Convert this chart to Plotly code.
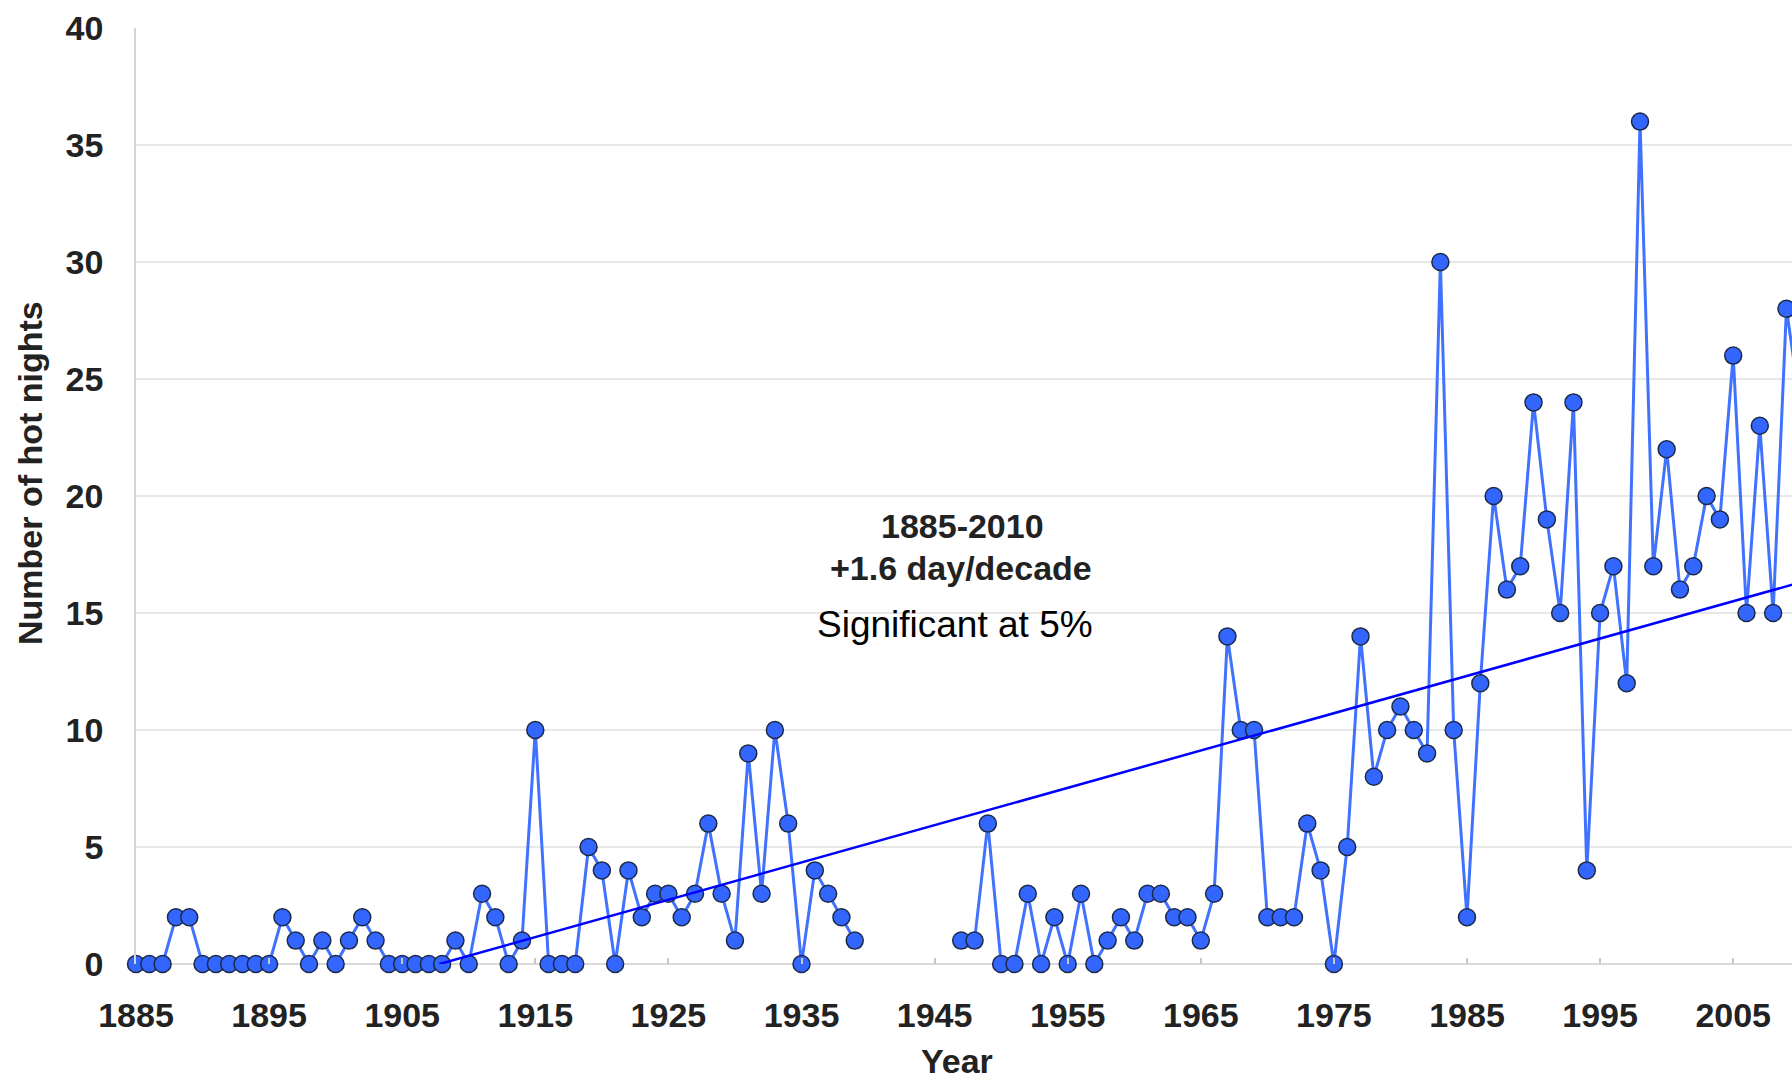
import plotly.graph_objects as go

# ---- data ----
years = list(range(1885, 2011))
hot_nights = [
    0, 0, 0, 2, 2, 0, 0, 0, 0, 0,          # 1885-1894
    0, 2, 1, 0, 1, 0, 1, 2, 1, 0,          # 1895-1904
    0, 0, 0, 0, 1, 0, 3, 2, 0, 1,          # 1905-1914
    10, 0, 0, 0, 5, 4, 0, 4, 2, 3,         # 1915-1924
    3, 2, 3, 6, 3, 1, 9, 3, 10, 6,         # 1925-1934
    0, 4, 3, 2, 1, None, None, None, None, None,  # 1935-1944
    None, None, 1, 1, 6, 0, 0, 3, 0, 2,    # 1945-1954
    0, 3, 0, 1, 2, 1, 3, 3, 2, 2,          # 1955-1964
    1, 3, 14, 10, 10, 2, 2, 2, 6, 4,       # 1965-1974
    0, 5, 14, 8, 10, 11, 10, 9, 30, 10,    # 1975-1984
    2, 12, 20, 16, 17, 24, 19, 15, 24, 4,  # 1985-1994
    15, 17, 12, 36, 17, 22, 16, 17, 20, 19,  # 1995-2004
    26, 15, 23, 15, 28, 24,                # 2005-2010
]
trend_years = [1907.8, 2010]
trend_values = [0.0, 16.3]
x_ticks = list(range(1885, 2006, 10))
y_ticks = list(range(0, 41, 5))

# ---- layout geometry (pixels) ----
W, H = 1792, 1085
L, T, B = 136, 28, 121
plot_w = W - L
plot_h = H - T - B
px_per_year = 13.31
x_end = 1885 + plot_w / px_per_year

def px(xp):
    return (xp - L) / plot_w

def py(yp):
    return (H - B - yp) / plot_h

FONT = "Arial, 'Liberation Sans', sans-serif"

fig = go.Figure()
fig.add_trace(go.Scatter(
    x=years, y=hot_nights, mode="lines+markers",
    line=dict(color="#4072ff", width=3),
    marker=dict(size=17, color="#3366ff", line=dict(color="#1c2a4a", width=1.5)),
    connectgaps=False, cliponaxis=False, showlegend=False, hoverinfo="x+y",
))
fig.add_trace(go.Scatter(
    x=trend_years, y=trend_values, mode="lines",
    line=dict(color="#0000ff", width=2.5),
    cliponaxis=True, showlegend=False, hoverinfo="skip",
))

annotations = [
    dict(text="<b>1885-2010</b>", x=px(962), y=py(526), font=dict(size=34, color="#222222")),
    dict(text="<b>+1.6 day/decade</b>", x=px(961), y=py(568), font=dict(size=34, color="#222222")),
    dict(text="Significant at 5%", x=px(955), y=py(624), font=dict(size=37, color="#000000")),
    dict(text="<b>Year</b>", x=px(957), y=py(1061), font=dict(size=34, color="#222222")),
    dict(text="<b>Number of hot nights</b>", x=px(30), y=py(473), textangle=-90,
         font=dict(size=34, color="#222222")),
]
for a in annotations:
    a.update(xref="paper", yref="paper", showarrow=False, xanchor="center", yanchor="middle")
    a["font"]["family"] = FONT

fig.update_layout(
    width=W, height=H,
    margin=dict(l=L, r=0, t=T, b=B, pad=0),
    paper_bgcolor="white", plot_bgcolor="white",
    font=dict(family=FONT, color="#222222"),
    annotations=annotations,
    xaxis=dict(
        range=[1885, x_end], tickvals=x_ticks, ticktext=[f"<b>{t}</b>" for t in x_ticks],
        ticks="inside", ticklen=6, tickwidth=1.5, tickcolor="#c8c8c8",
        showgrid=False, zeroline=False, showline=False,
        tickfont=dict(size=34, color="#222222"), ticklabelstandoff=28,
    ),
    yaxis=dict(
        range=[0, 40], tickvals=y_ticks, ticktext=[f"<b>{t}</b>" for t in y_ticks],
        showgrid=True, gridcolor="#e8e8e8", gridwidth=1.5,
        zeroline=True, zerolinecolor="#dadada", zerolinewidth=1.5,
        showline=True, linecolor="#d4d4d4", linewidth=1.5,
        ticks="", tickfont=dict(size=34, color="#222222"), ticklabelstandoff=24,
    ),
)

fig.write_html(
    "out.html",
    config={"displayModeBar": False},
    post_script="document.body.style.margin='0';document.body.style.overflow='hidden';",
)
